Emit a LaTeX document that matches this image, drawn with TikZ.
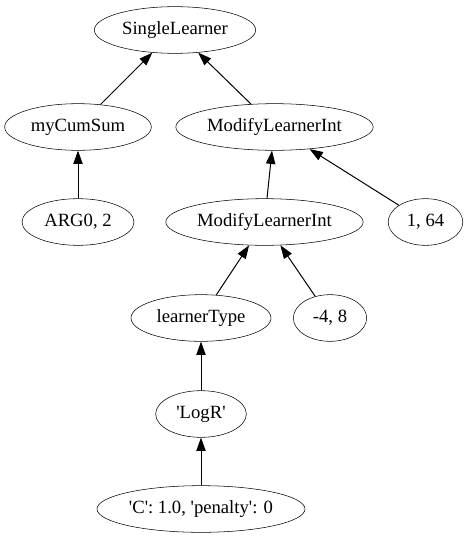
\documentclass[tikz,border=0pt]{standalone}
\usepackage{fontspec}
\setmainfont{Liberation Serif}
\usetikzlibrary{shapes.geometric,arrows.meta}

\newcommand{\sq}{\textquotesingle}

\tikzset{
  gvnode/.style={draw, ellipse, inner sep=0pt, minimum height=35pt, font=\fontsize{14pt}{16pt}\selectfont},
  gvedge/.style={draw, line width=0.75pt, -{Triangle[length=10pt,width=7pt]}}
}

\begin{document}
\begin{tikzpicture}[x=0.75pt,y=0.75pt,yscale=-1,xscale=1]
\path[use as bounding box] (0,0) rectangle (467,539);

% Nodes
\node [gvnode, minimum width=121pt] (single) at (175,30) {SingleLearner};
\node [gvnode, minimum width=110pt] (cumsum) at (78,127) {myCumSum};
\node [gvnode, minimum width=148pt] (modtop) at (274.5,127) {ModifyLearnerInt};
\node [gvnode, minimum width=84pt] (arg) at (78,222) {ARG0, 2};
\node [gvnode, minimum width=148pt] (modmid) at (264.5,222) {ModifyLearnerInt};
\node [gvnode, minimum width=56pt] (rangeA) at (425.5,222) {1, 64};
\node [gvnode, minimum width=105pt] (ltype) at (201,318) {learnerType};
\node [gvnode, minimum width=55pt] (rangeB) at (330,318) {-4, 8};
\node [gvnode, minimum width=68pt] (logr) at (201,414) {\sq LogR\sq};
\node [gvnode, minimum width=156pt] (params) at (201,509) {\sq C\sq: 1.0, \sq penalty\sq: 0};

% Edges
\draw [gvedge] (cumsum) -- (single);
\draw [gvedge] (modtop) -- (single);
\draw [gvedge] (arg) -- (cumsum);
\draw [gvedge] (modmid) -- (modtop);
\draw [gvedge] (rangeA) -- (modtop);
\draw [gvedge] (ltype) -- (modmid);
\draw [gvedge] (rangeB) -- (modmid);
\draw [gvedge] (logr) -- (ltype);
\draw [gvedge] (params) -- (logr);

\end{tikzpicture}
\end{document}
